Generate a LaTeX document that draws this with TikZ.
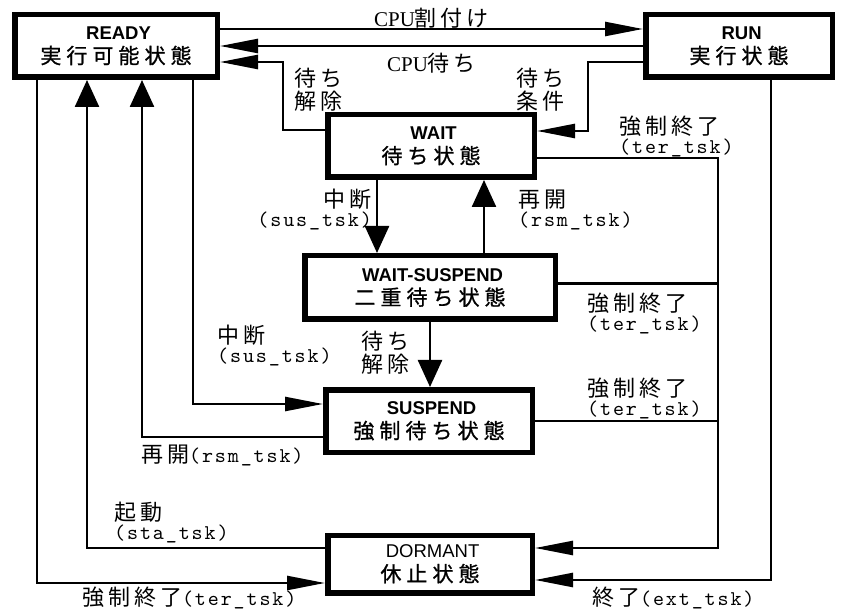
\documentclass[tikz,border=0pt]{standalone}
\usepackage{fontspec}
\setmainfont{Liberation Serif}
\newfontfamily\jplbl[LetterSpace=18]{Noto Sans CJK JP}
\newfontfamily\jpbox[LetterSpace=24,FakeBold=1]{Noto Sans CJK JP}
\newfontfamily\lblmono[LetterSpace=9]{lmmono10-regular.otf}
\newfontfamily\boxsans{Liberation Sans}
\usetikzlibrary{calc,arrows.meta}

\newcommand\stname[3][\bfseries]{{\fontsize{18.5}{24}\boxsans#1 #2}\\{\fontsize{21}{24}\jpbox #3}}
\newcommand\tsk[1]{{\fontsize{21}{19}\lblmono(#1)}}

\begin{document}
\begin{tikzpicture}[x=1pt,y=-1pt,
  state/.style={draw,line width=5.5pt,inner sep=0pt,align=center,
    font=\fontsize{18}{24}\selectfont},
  conn/.style={line width=2.5pt},
  harr/.style={conn,-{Triangle[length=38pt,width=14pt]}},
  varr/.style={conn,-{Triangle[length=27pt,width=24pt]}},
  lbl/.style={inner sep=0pt,align=left,font=\fontsize{22}{19}\jplbl}]
  \useasboundingbox (0,0) rectangle (841,612);
  % states
  \node[state,minimum width=202.5pt,minimum height=62.5pt] (ready) at (116,46) {\stname{READY}{実行可能状態}};
  \node[state,minimum width=186.5pt,minimum height=62.5pt] (run) at (739,46) {\stname{RUN}{実行状態}};
  \node[state,minimum width=206.5pt,minimum height=62.5pt] (wait) at (431,146) {\stname{WAIT}{待ち状態}};
  \node[state,minimum width=250.5pt,minimum height=63.5pt] (waitsus) at (430,287.5) {\stname{WAIT-SUSPEND}{二重待ち状態}};
  \node[state,minimum width=206.5pt,minimum height=62.5pt] (suspend) at (429,421) {\stname{SUSPEND}{強制待ち状態}};
  \node[state,minimum width=204.5pt,minimum height=57.5pt] (dormant) at (430,564) {\stname[\mdseries]{DORMANT}{休止状態}};
  % bends of the outer rails
  \coordinate (terL) at (37,583);
  \coordinate (staL) at (87,548);
  \coordinate (rsmL) at (142,437);
  \coordinate (susL) at (193,404);
  \coordinate (terR) at (718,548);
  \coordinate (extR) at (771,580);
  % READY <-> RUN
  \draw[harr] ($(ready.east)+(0,-17)$) -- ($(run.west)+(0,-17)$)
    node[lbl,midway,yshift=11pt] {{\fontsize{21}{19}\rmfamily CPU}割付け};
  \draw[harr] (run.west) -- (ready.east)
    node[lbl,midway,yshift=-17pt] {{\fontsize{21}{19}\rmfamily CPU}待ち};
  % WAIT <-> READY, RUN
  \draw[harr] ($(wait.west)+(0,-16)$) -| ($(ready.east)+(63,16)$) -- ($(ready.east)+(0,16)$);
  \draw[harr] ($(run.west)+(0,16)$) -| ($(wait.east)+(51,-15)$) -- ($(wait.east)+(0,-15)$);
  \node[lbl,anchor=west] at (294,90) {待ち\\[2pt]解除};
  \node[lbl,anchor=west] at (516,90) {待ち\\[2pt]条件};
  % WAIT <-> WAIT-SUSPEND -> SUSPEND
  \draw[varr] ($(wait.south)+(-54,0)$) coordinate (susW) -- (susW |- waitsus.north);
  \draw[varr] ($(waitsus.north)+(54,0)$) coordinate (rsmW) -- (rsmW |- wait.south);
  \draw[varr] (waitsus.south) -- (waitsus.south |- suspend.north);
  \node[lbl,anchor=east,align=right] at (372,210) {中断\\\tsk{sus\_tsk}};
  \node[lbl,anchor=west] at (518,210) {再開\\\tsk{rsm\_tsk}};
  \node[lbl,anchor=west] at (361,353) {待ち\\[2pt]解除};
  % left rails
  \draw[harr] (ready.south -| susL) -- (susL) -- (suspend.west |- susL);
  \draw[varr] (suspend.west |- rsmL) -- (rsmL) -- (rsmL |- ready.south);
  \draw[varr] (dormant.west |- staL) -- (staL) -- (staL |- ready.south);
  \draw[harr] (ready.south -| terL) -- (terL) -- (dormant.west |- terL);
  \node[lbl,anchor=west] at (217,346) {中断\\\tsk{sus\_tsk}};
  \node[lbl,anchor=west] at (141,455) {再開\tsk{rsm\_tsk}};
  \node[lbl,anchor=west] at (114,523) {起動\\\tsk{sta\_tsk}};
  \node[lbl,anchor=west] at (82,598) {強制終了\tsk{ter\_tsk}};
  % right rails
  \draw[harr] ($(wait.east)+(0,12)$) -| (terR) -- (dormant.east |- terR);
  \draw[conn] ($(waitsus.east)+(0,-4)$) coordinate (wsT) -- (wsT -| terR);
  \draw[conn] (suspend.east) -- (suspend.east -| terR);
  \draw[harr] (run.south -| extR) -- (extR) -- (dormant.east |- extR);
  \node[lbl,anchor=west] at (619,136) {強制終了\\\tsk{ter\_tsk}};
  \node[lbl,anchor=west] at (587,313) {強制終了\\\tsk{ter\_tsk}};
  \node[lbl,anchor=west] at (587,398) {強制終了\\\tsk{ter\_tsk}};
  \node[lbl,anchor=west] at (592,598) {終了\tsk{ext\_tsk}};
\end{tikzpicture}
\end{document}
